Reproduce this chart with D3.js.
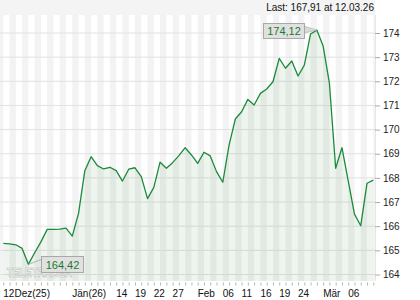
<!DOCTYPE html>
<html>
<head>
<meta charset="utf-8">
<script src="https://cdn.jsdelivr.net/npm/d3@7"></script>
<style>
  html, body { margin: 0; padding: 0; background: #fff; }
  svg { display: block; }
  text { font-family: "Liberation Sans", Arial, sans-serif; }
</style>
</head>
<body>
<svg id="chart" width="420" height="300"></svg>
<script>
// ---- data ----
const values = [
  165.29, 165.27, 165.23, 165.08, 164.42, 164.90, 165.35, 165.87, 165.87, 165.88,
  165.92, 165.59, 166.53, 168.30, 168.88, 168.51, 168.37, 168.44, 168.30, 167.87,
  168.36, 168.42, 168.05, 167.14, 167.61, 168.65, 168.40, 168.63, 168.92, 169.25,
  168.95, 168.60, 169.06, 168.91, 168.26, 167.82, 169.36, 170.44, 170.74, 171.25,
  171.02, 171.50, 171.68, 171.98, 172.95, 172.54, 172.84, 172.22, 172.67, 173.96,
  174.12, 173.46, 171.92, 168.40, 169.25, 167.88, 166.50, 166.02, 167.78, 167.91
];
const xTickIndex  = [0, 11, 18, 21, 24, 27, 31, 35, 38, 41, 44, 47, 51, 55];
const xTickLabels = ["12Dez(25)", "Jän(26)", "14", "19", "22", "27", "Feb", "06", "11", "16", "19", "24", "Mär", "06"];
const yTicks = [164, 165, 166, 167, 168, 169, 170, 171, 172, 173, 174];
const maxLabel = "174,12";
const minLabel = "164,42";
const lastLabel = "Last: 167,91 at 12.03.26";

// ---- layout ----
const svg = d3.select("#chart");
const plot = { left: 0, right: 375, top: 15, bottom: 281 };
const x = d3.scaleLinear().domain([0, values.length - 1]).range([3.3, 373.3]);
const y = d3.scaleLinear().domain([164, 174]).range([274.5, 33]);
const idx = d3.range(values.length);

const defs = svg.append("defs");
defs.append("clipPath").attr("id", "clip")
  .append("rect").attr("x", plot.left).attr("y", plot.top)
  .attr("width", plot.right - plot.left).attr("height", plot.bottom - plot.top);

// header band
svg.append("rect").attr("x", 0).attr("y", 0).attr("width", plot.right).attr("height", plot.top)
  .attr("fill", "#f4f4f4");
svg.append("text").attr("x", 374).attr("y", 11).attr("text-anchor", "end")
  .attr("font-size", 10).attr("fill", "#111").text(lastLabel);

const g = svg.append("g").attr("clip-path", "url(#clip)");
g.append("rect").attr("x", plot.left).attr("y", plot.top)
  .attr("width", plot.right - plot.left).attr("height", plot.bottom - plot.top).attr("fill", "#fff");

// vertical stripes between consecutive points
g.selectAll("rect.stripe").data(d3.range(-1, values.length).filter(i => (i + 1) % 2 === 0))
  .join("rect").attr("class", "stripe")
  .attr("x", i => x(i)).attr("y", plot.top)
  .attr("width", x(1) - x(0)).attr("height", plot.bottom - plot.top)
  .attr("fill", "#f3f3f3");

// horizontal gridlines
g.selectAll("line.grid").data(yTicks).join("line").attr("class", "grid")
  .attr("x1", plot.left).attr("x2", plot.right)
  .attr("y1", d => y(d)).attr("y2", d => y(d))
  .attr("stroke", "#e2e2e2").attr("stroke-width", 1);

// area + line
const area = d3.area().x(i => x(i)).y0(plot.bottom).y1(i => y(values[i]));
g.append("path").datum(idx).attr("d", area).attr("fill", "#1f7a2c").attr("fill-opacity", 0.075);
const line = d3.line().x(i => x(i)).y(i => y(values[i]));
g.append("path").datum(idx).attr("d", line).attr("fill", "none")
  .attr("stroke", "#1b8a3a").attr("stroke-width", 1.3).attr("stroke-linejoin", "round");

// plot border (right / bottom)
svg.append("line").attr("x1", plot.right + 0.5).attr("x2", plot.right + 0.5)
  .attr("y1", plot.top).attr("y2", plot.bottom).attr("stroke", "#e6e6e6");

// y axis on right
const yAxis = d3.axisRight(y).tickValues(yTicks).tickSize(5).tickPadding(3).tickFormat(d3.format("d"));
const ya = svg.append("g").attr("transform", `translate(${plot.right},0)`).call(yAxis);
ya.select(".domain").remove();
ya.selectAll(".tick line").attr("stroke", "#aaa");
ya.selectAll(".tick text").attr("font-size", 10).attr("fill", "#222")
  .attr("font-family", "Liberation Sans, Arial, sans-serif");

// x axis: small ticks at each point
const xAxis = d3.axisBottom(x).tickValues(idx).tickSize(3).tickFormat("");
const xa = svg.append("g").attr("transform", `translate(0,${plot.bottom + 1.5})`).call(xAxis);
xa.select(".domain").remove();
xa.selectAll(".tick line").attr("stroke", "#b5b5b5");

svg.append("g").selectAll("text").data(xTickIndex).join("text")
  .attr("x", i => x(i)).attr("y", 297)
  .attr("font-size", 10).attr("fill", "#111")
  .text((d, k) => xTickLabels[k]);

// watermark
svg.append("text").attr("x", 7).attr("y", 276.5)
  .attr("font-size", 12).attr("font-weight", "bold")
  .attr("textLength", 65).attr("lengthAdjust", "spacingAndGlyphs")
  .attr("fill", "#ffffff").attr("fill-opacity", 0.7)
  .attr("stroke", "#b9b9b9").attr("stroke-width", 0.6)
  .text("TELETRADER");

// value callouts
function callout(i, label, bx, by, bw, bh, tip) {
  const px = x(i), py = y(values[i]);
  svg.append("path")
    .attr("d", `M${tip[0][0]},${tip[0][1]} L${px},${py} L${tip[1][0]},${tip[1][1]} Z`)
    .attr("fill", "#d9d9d9").attr("stroke", "#b0b0b0").attr("stroke-width", 0.6);
  svg.append("rect").attr("x", bx).attr("y", by).attr("width", bw).attr("height", bh)
    .attr("fill", "#dedede").attr("fill-opacity", 0.92)
    .attr("stroke", "#a8a8a8").attr("stroke-width", 1);
  svg.append("text").attr("x", bx + bw / 2).attr("y", by + bh / 2 + 4)
    .attr("text-anchor", "middle").attr("font-size", 11).attr("fill", "#1b7a30").text(label);
}
const iMax = values.indexOf(d3.max(values));
const iMin = values.indexOf(d3.min(values));
callout(iMax, maxLabel, 263.5, 23.5, 41, 15, [[304, 26], [304, 33]]);
callout(iMin, minLabel, 41.5, 256.5, 42, 16, [[42, 259], [49, 257]]);
</script>
</body>
</html>
